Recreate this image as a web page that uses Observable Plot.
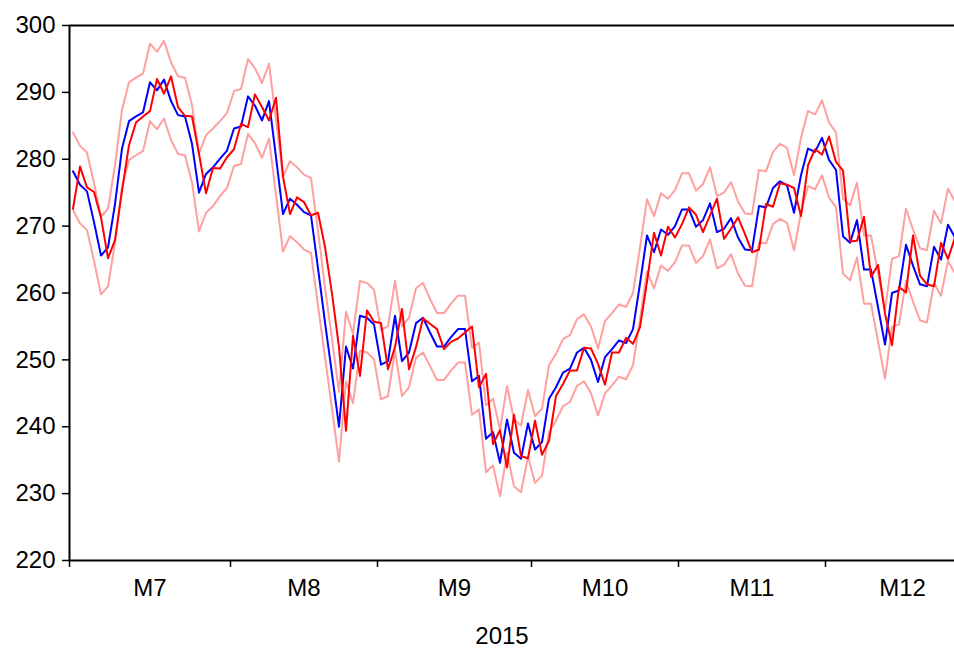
<!DOCTYPE html>
<html><head><meta charset="utf-8">
<script src="https://cdn.jsdelivr.net/npm/d3@7"></script>
<script src="https://cdn.jsdelivr.net/npm/@observablehq/plot@0.6"></script>
<style>body{margin:0;background:#fff;overflow:hidden}</style>
</head><body><div id="chart"></div>
<script>
const monthLabels = ["M7","M8","M9","M10","M11","M12"];
const obsPerMonth = [23,21,22,21,21,22];
const yearLabel = "2015";
const yTicks = [220,230,240,250,260,270,280,290,300];

// blue series (band centre)
const blue = [278.2,276.2,275.2,270.6,265.6,266.8,273.3,281.6,285.7,286.4,
287.0,291.5,290.3,291.9,288.7,286.6,286.4,282.3,275.0,277.8,
278.8,280.1,281.3,284.6,284.9,289.4,288.0,285.8,288.7,280.3,
271.8,274.1,273.2,272.1,271.6,263.7,255.6,247.9,240.0,252.0,
248.7,256.6,256.3,255.3,249.3,249.8,256.6,249.8,251.1,255.5,
256.3,254.1,252.0,252.0,253.4,254.6,254.6,246.8,247.6,238.2,
239.2,234.6,241.1,236.1,235.2,240.5,236.6,237.7,244.2,245.9,
248.1,248.7,251.1,251.8,250.0,246.7,250.4,251.6,252.9,252.5,
254.6,261.4,268.6,266.1,269.5,268.7,270.0,272.5,272.5,269.9,
270.9,273.4,269.1,269.6,271.2,268.3,266.5,266.4,273.0,272.8,
275.7,276.7,276.1,272.0,277.6,281.6,281.1,283.2,279.9,278.4,
268.5,267.5,270.9,263.5,263.5,257.9,252.3,260.0,260.4,267.2,
264.1,261.3,261.0,266.9,265.0,270.2,268.3];

// red series
const red = [272.6,278.9,275.8,275.1,271.3,265.2,267.9,275.3,282.1,285.5,
286.4,287.2,292.0,289.8,292.4,287.8,286.5,286.4,280.8,274.9,
278.7,278.6,280.3,281.5,285.3,284.8,289.7,287.8,285.8,289.2,
277.4,271.8,274.3,273.6,271.6,272.0,266.9,259.9,251.9,239.4,
253.6,247.6,257.4,255.7,255.5,248.6,251.9,257.6,248.6,251.9,
256.2,255.4,254.6,251.6,252.7,253.2,254.1,255.0,245.9,247.9,
237.4,239.5,233.9,241.8,235.6,235.3,240.9,235.8,237.9,244.6,
246.4,248.4,248.4,251.8,251.7,249.4,246.3,251.1,251.1,253.3,
252.4,254.9,261.7,269.0,265.6,269.9,268.3,270.3,272.8,271.7,
269.1,271.6,274.1,268.1,269.6,271.3,268.8,266.1,266.5,273.3,
272.9,276.4,276.2,275.7,271.5,279.1,281.5,280.7,283.4,279.6,
278.3,267.7,267.8,271.4,262.4,264.2,256.9,252.2,260.9,260.1,
268.6,262.6,261.3,261.0,267.5,265.1,268.3];

// upper band
const upper = [284.0,282.0,281.0,276.4,271.4,272.6,279.1,287.4,291.5,292.2,
292.8,297.3,296.1,297.7,294.5,292.4,292.2,288.1,280.8,283.6,
284.6,285.7,286.9,290.2,290.5,295.0,293.6,291.4,294.3,285.9,
277.4,279.7,278.8,277.7,277.2,269.3,260.8,253.1,245.2,257.2,
253.9,261.8,261.5,260.5,254.5,255.0,261.8,255.0,256.3,260.7,
261.5,259.1,257.0,257.0,258.4,259.6,259.6,251.8,252.6,243.2,
244.2,239.6,246.1,241.1,240.2,245.5,241.6,242.7,249.2,250.9,
253.1,253.7,256.1,256.8,255.0,251.7,255.8,257.0,258.3,257.9,
260.0,266.8,274.0,271.5,274.9,274.1,275.4,277.9,277.9,275.3,
276.3,278.8,274.5,275.0,276.6,273.7,271.9,271.8,278.4,278.2,
281.1,282.3,281.7,277.6,283.2,287.2,286.7,288.8,285.5,284.0,
274.1,273.1,276.5,268.6,268.6,263.0,257.4,265.1,265.5,272.6,
269.5,266.7,266.4,272.3,270.4,275.6,273.7];

// lower band
const lower = [272.4,270.4,269.4,264.8,259.8,261.0,267.5,275.8,279.9,280.6,
281.2,285.7,284.5,286.1,282.9,280.8,280.6,276.5,269.2,272.0,
273.0,274.5,275.7,279.0,279.3,283.8,282.4,280.2,283.1,274.7,
266.2,268.5,267.6,266.5,266.0,258.1,250.4,242.7,234.8,246.8,
243.5,251.4,251.1,250.1,244.1,244.6,251.4,244.6,245.9,250.3,
251.1,249.1,247.0,247.0,248.4,249.6,249.6,241.8,242.6,233.2,
234.2,229.6,236.1,231.1,230.2,235.5,231.6,232.7,239.2,240.9,
243.1,243.7,246.1,246.8,245.0,241.7,245.0,246.2,247.5,247.1,
249.2,256.0,263.2,260.7,264.1,263.3,264.6,267.1,267.1,264.5,
265.5,268.0,263.7,264.2,265.8,262.9,261.1,261.0,267.6,267.4,
270.3,271.1,270.5,266.4,272.0,276.0,275.5,277.6,274.3,272.8,
262.9,261.9,265.3,258.4,258.4,252.8,247.2,254.9,255.3,261.8,
258.7,255.9,255.6,261.5,259.6,264.8,262.9];

const rows = blue.map((v, i) => ({i, blue: v, red: red[i], upper: upper[i], lower: lower[i]}));

const xMin = -0.5, xMax = -0.5 + 885 / 7;
const bounds = [xMin];
obsPerMonth.forEach(c => bounds.push(bounds[bounds.length - 1] + c));
const months = monthLabels.map((m, k) => ({m, x: (bounds[k] + bounds[k + 1]) / 2}));
const tickBounds = bounds.filter(b => b <= xMax);

const chart = Plot.plot({
  width: 954, height: 648,
  marginLeft: 69, marginRight: 0, marginTop: 25, marginBottom: 88,
  x: {domain: [xMin, xMax], axis: null},
  y: {domain: [220, 300], axis: null},
  style: {fontFamily: "'Liberation Sans', Arial, sans-serif", fontSize: "24px", color: "#000", background: "#fff"},
  marks: [
    Plot.lineY(rows, {x: "i", y: "upper", stroke: "#ffa0a0", strokeWidth: 2, clip: true}),
    Plot.lineY(rows, {x: "i", y: "lower", stroke: "#ffa0a0", strokeWidth: 2, clip: true}),
    Plot.lineY(rows, {x: "i", y: "blue", stroke: "#0000ff", strokeWidth: 2, clip: true}),
    Plot.lineY(rows, {x: "i", y: "red", stroke: "#ff0000", strokeWidth: 2, clip: true}),
    Plot.axisY({ticks: yTicks, tickSize: 7, tickPadding: 7, strokeWidth: 1.5, label: null, fontSize: 24}),
    Plot.axisX({ticks: tickBounds, tickSize: 7, tickFormat: () => "", strokeWidth: 1.5, label: null}),
    Plot.text(months, {x: "x", text: "m", frameAnchor: "bottom", dy: 35, fontSize: 24}),
    Plot.text([yearLabel], {text: d => d, frameAnchor: "bottom", dx: -10, dy: 83, fontSize: 24}),
    Plot.ruleY([220], {stroke: "#000", strokeWidth: 2}),
    Plot.ruleY([300], {stroke: "#000", strokeWidth: 2}),
    Plot.ruleX([xMin], {stroke: "#000", strokeWidth: 2})
  ]
});
document.getElementById("chart").appendChild(chart);
</script>
</body></html>
